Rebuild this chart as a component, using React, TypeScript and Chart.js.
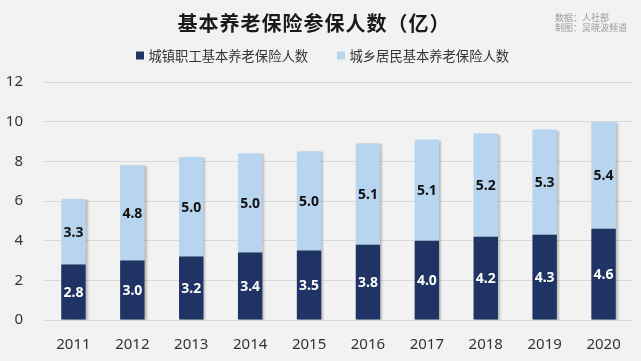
import React, { useEffect, useRef } from "react";
import { Chart, registerables } from "chart.js";

Chart.register(...registerables);

const years = ["2011", "2012", "2013", "2014", "2015", "2016", "2017", "2018", "2019", "2020"];
const urbanWorkers = [2.8, 3.0, 3.2, 3.4, 3.5, 3.8, 4.0, 4.2, 4.3, 4.6];
const ruralResidents = [3.3, 4.8, 5.0, 5.0, 5.0, 5.1, 5.1, 5.2, 5.3, 5.4];
const seriesNames = ["城镇职工基本养老保险人数", "城乡居民基本养老保险人数"];
const titleText = "基本养老保险参保人数（亿）";
const sourceLines = ["数据：人社部", "制图：吴晓波频道"];

const DARK = "#1f3464";
const LIGHT = "#b8d5ef";
const BG = "#f2f2f2";
const CJK = '"Noto Sans CJK SC", "Noto Sans", sans-serif';

const overlayPlugin = {
  id: "overlay",
  beforeDraw(chart: any) {
    const ctx = chart.ctx;
    ctx.save();
    ctx.fillStyle = BG;
    ctx.fillRect(0, 0, chart.width, chart.height);
    ctx.restore();
  },
  beforeDatasetsDraw(chart: any) {
    const ctx = chart.ctx;
    ctx.save();
    ctx.shadowColor = "rgba(0,0,0,0.22)";
    ctx.shadowOffsetX = 2;
    ctx.shadowOffsetY = 1;
    ctx.shadowBlur = 2;
  },
  afterDatasetsDraw(chart: any) {
    const ctx = chart.ctx;
    ctx.restore();
    // data labels
    ctx.save();
    ctx.textAlign = "center";
    ctx.textBaseline = "middle";
    ctx.font = 'bold 14px "Noto Sans", sans-serif';
    chart.data.datasets.forEach((ds: any, di: number) => {
      const meta = chart.getDatasetMeta(di);
      meta.data.forEach((el: any, i: number) => {
        const v = ds.data[i];
        const cy = (el.y + el.base) / 2;
        ctx.fillStyle = di === 0 ? "#ffffff" : "#111111";
        ctx.fillText(Number(v).toFixed(1), el.x, cy + 1);
      });
    });
    ctx.restore();
  },
  afterDraw(chart: any) {
    const ctx = chart.ctx;
    ctx.save();
    // title
    ctx.fillStyle = "#1a1a1a";
    ctx.font = `bold 20px ${CJK}`;
    ctx.textAlign = "center";
    ctx.textBaseline = "middle";
    (ctx as any).letterSpacing = "1px";
    ctx.fillText(titleText, 314, 23);
    (ctx as any).letterSpacing = "0px";
    // source
    ctx.fillStyle = "#9a9a9a";
    ctx.font = `9px ${CJK}`;
    ctx.textAlign = "left";
    ctx.fillText(sourceLines[0], 555, 18);
    ctx.fillText(sourceLines[1], 555, 28);
    // legend
    const items = [
      { x: 136, color: DARK, text: seriesNames[0] },
      { x: 337, color: LIGHT, text: seriesNames[1] },
    ];
    ctx.font = `13.3px ${CJK}`;
    items.forEach((it) => {
      ctx.fillStyle = it.color;
      ctx.fillRect(it.x, 51.5, 8, 8);
      ctx.fillStyle = "#333333";
      ctx.fillText(it.text, it.x + 12.5, 55.5);
    });
    ctx.restore();
  },
};

export default function App() {
  const ref = useRef<HTMLCanvasElement | null>(null);
  useEffect(() => {
    if (!ref.current) return;
    const chart = new Chart(ref.current, {
      type: "bar",
      data: {
        labels: years,
        datasets: [
          {
            label: seriesNames[0],
            data: urbanWorkers,
            backgroundColor: DARK,
            stack: "s",
            categoryPercentage: 0.83,
            barPercentage: 0.5,
          },
          {
            label: seriesNames[1],
            data: ruralResidents,
            backgroundColor: LIGHT,
            stack: "s",
            categoryPercentage: 0.83,
            barPercentage: 0.5,
          },
        ],
      },
      options: {
        animation: false,
        responsive: false,
        devicePixelRatio: 1,
        layout: { padding: { top: 82, right: 8, left: 0, bottom: 0 } },
        plugins: {
          legend: { display: false },
          title: { display: false },
          tooltip: { enabled: false },
        },
        scales: {
          x: {
            stacked: true,
            grid: { display: false, drawTicks: false },
            border: { display: false },
            ticks: {
              color: "#333333",
              font: { family: '"Noto Sans", sans-serif', size: 15 },
              padding: 16,
              maxRotation: 0,
            },
            afterFit: (s: any) => {
              s.height = 41;
            },
          },
          y: {
            stacked: true,
            min: 0,
            max: 12,
            ticks: {
              stepSize: 2,
              color: "#333333",
              font: { family: '"Noto Sans", sans-serif', size: 15 },
              padding: 21,
            },
            grid: { color: "#d9d9d9", drawTicks: false, lineWidth: 1 },
            border: { display: false },
            afterFit: (s: any) => {
              s.width = 44;
            },
          },
        },
      },
      plugins: [overlayPlugin],
    });
    return () => chart.destroy();
  }, []);
  return (
    <div style={{ position: "fixed", left: 0, top: 0, width: 641, height: 361, background: BG }}>
      <canvas ref={ref} width={641} height={361} style={{ width: 641, height: 361, display: "block" }} />
    </div>
  );
}
